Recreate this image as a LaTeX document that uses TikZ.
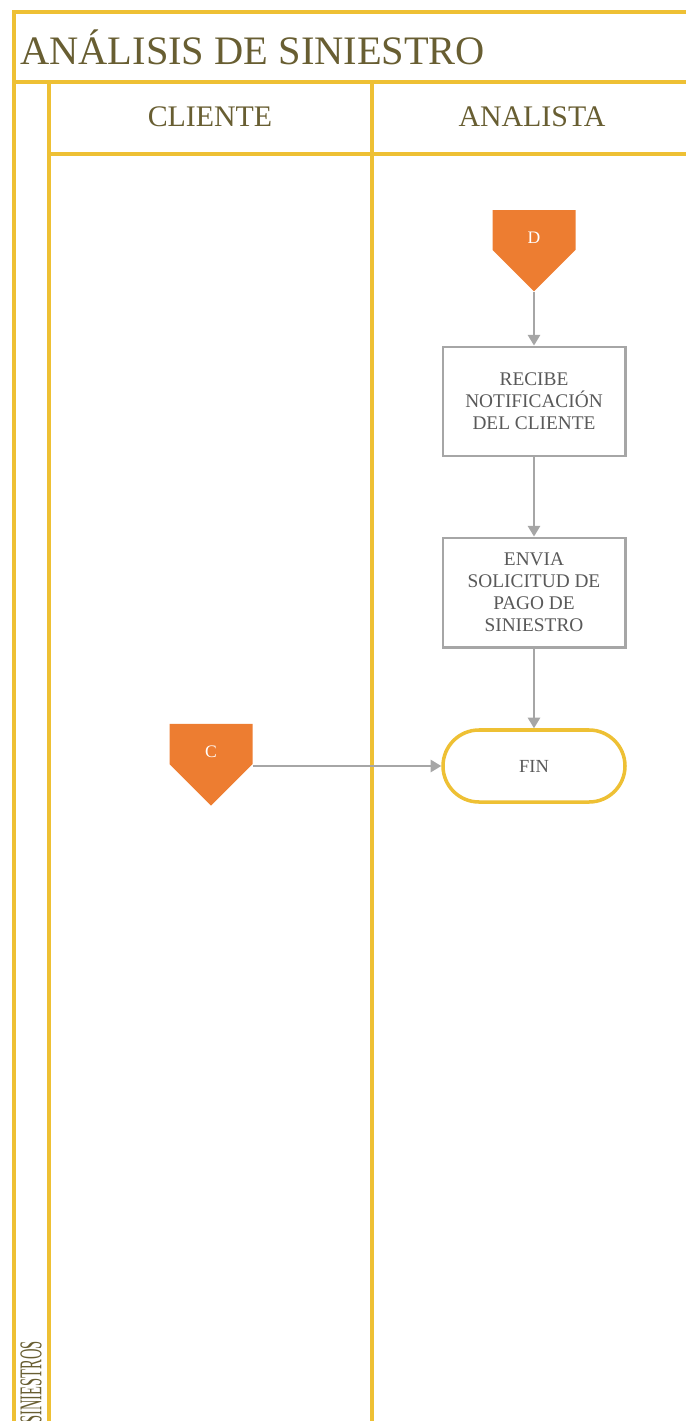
\documentclass[tikz,border=0pt]{standalone}
\usepackage{fontspec}
\setmainfont{Liberation Serif}
\usepackage{xcolor}
\usepackage{tikz}
\usetikzlibrary{shapes.symbols,arrows.meta}

\definecolor{poolgold}{RGB}{238,192,52}
\definecolor{connorange}{RGB}{237,125,49}
\definecolor{taskgray}{RGB}{166,166,166}
\definecolor{tasktext}{RGB}{89,89,89}
\definecolor{headtext}{RGB}{104,94,50}

\begin{document}
\begin{tikzpicture}[x=0.2mm,y=-0.2mm]
        \tikzstyle{every node}+=[inner sep=0pt]
        \tikzstyle{poolline}=[draw=poolgold, line width=2.2pt]
        \tikzstyle{head}=[text=headtext, font=\fontsize{17}{20}\selectfont]
        \tikzstyle{task}=[draw=taskgray, line width=1.7pt, fill=white, text=tasktext, align=center,
                minimum width=3.64cm, minimum height=2.18cm, font=\fontsize{11}{12.5}\selectfont]
        \tikzstyle{offpage}=[shape=signal, signal to=south, signal pointer angle=90, fill=connorange,
                text=white, minimum width=1.66cm, minimum height=0.92cm, text height=15pt, text depth=0pt,
                font=\fontsize{10}{11}\selectfont]
        \tikzstyle{terminal}=[draw=poolgold, line width=2pt, rounded corners=0.72cm, fill=white,
                text=tasktext, minimum width=3.64cm, minimum height=1.44cm, font=\fontsize{10.5}{12}\selectfont]
        \tikzstyle{flow}=[draw=taskgray, line width=0.9pt, -{Triangle[length=6pt,width=7pt]}]
        \useasboundingbox (0,0) rectangle (686,1421);
        % pool and lanes
        \draw [poolline] (686,12) -- (14,12) -- (14,1421);
        \draw [poolline] (14,82) -- (686,82);
        \draw [poolline] (49,82) -- (49,1421);
        \draw [poolline] (49,154) -- (686,154);
        \draw [poolline] (372,82) -- (372,1421);
        \node [anchor=west, text=headtext, font=\fontsize{23}{26}\selectfont] (title) at (20,47) {ANÁLISIS DE SINIESTRO};
        \node [head] (cliente) at (210,117) {CLIENTE};
        \node [head] (analista) at (532,117) {ANALISTA};
        \node [rotate=90, anchor=west, text=headtext, font=\fontsize{18}{20}\selectfont] (pool) at (31,1424) {\scalebox{0.46}[1]{SINIESTROS}};
        % steps
        \node [offpage] (d) at (534,230) {D};
        \node [task] (recibe) at (534,401.5) {RECIBE\\NOTIFICACIÓN\\DEL CLIENTE};
        \node [task] (envia) at (534,592.5) {ENVIA\\SOLICITUD DE\\PAGO DE\\SINIESTRO};
        \node [terminal] (fin) at (534,766) {FIN};
        \node [offpage] (c) at (211,744) {C};
        % flows
        \draw [flow] (d.south) -- (recibe.north);
        \draw [flow] (recibe.south) -- (envia.north);
        \draw [flow] (envia.south) -- (fin.north);
        \draw [flow] (c.east |- fin.west) -- (fin.west);
\end{tikzpicture}
\end{document}
